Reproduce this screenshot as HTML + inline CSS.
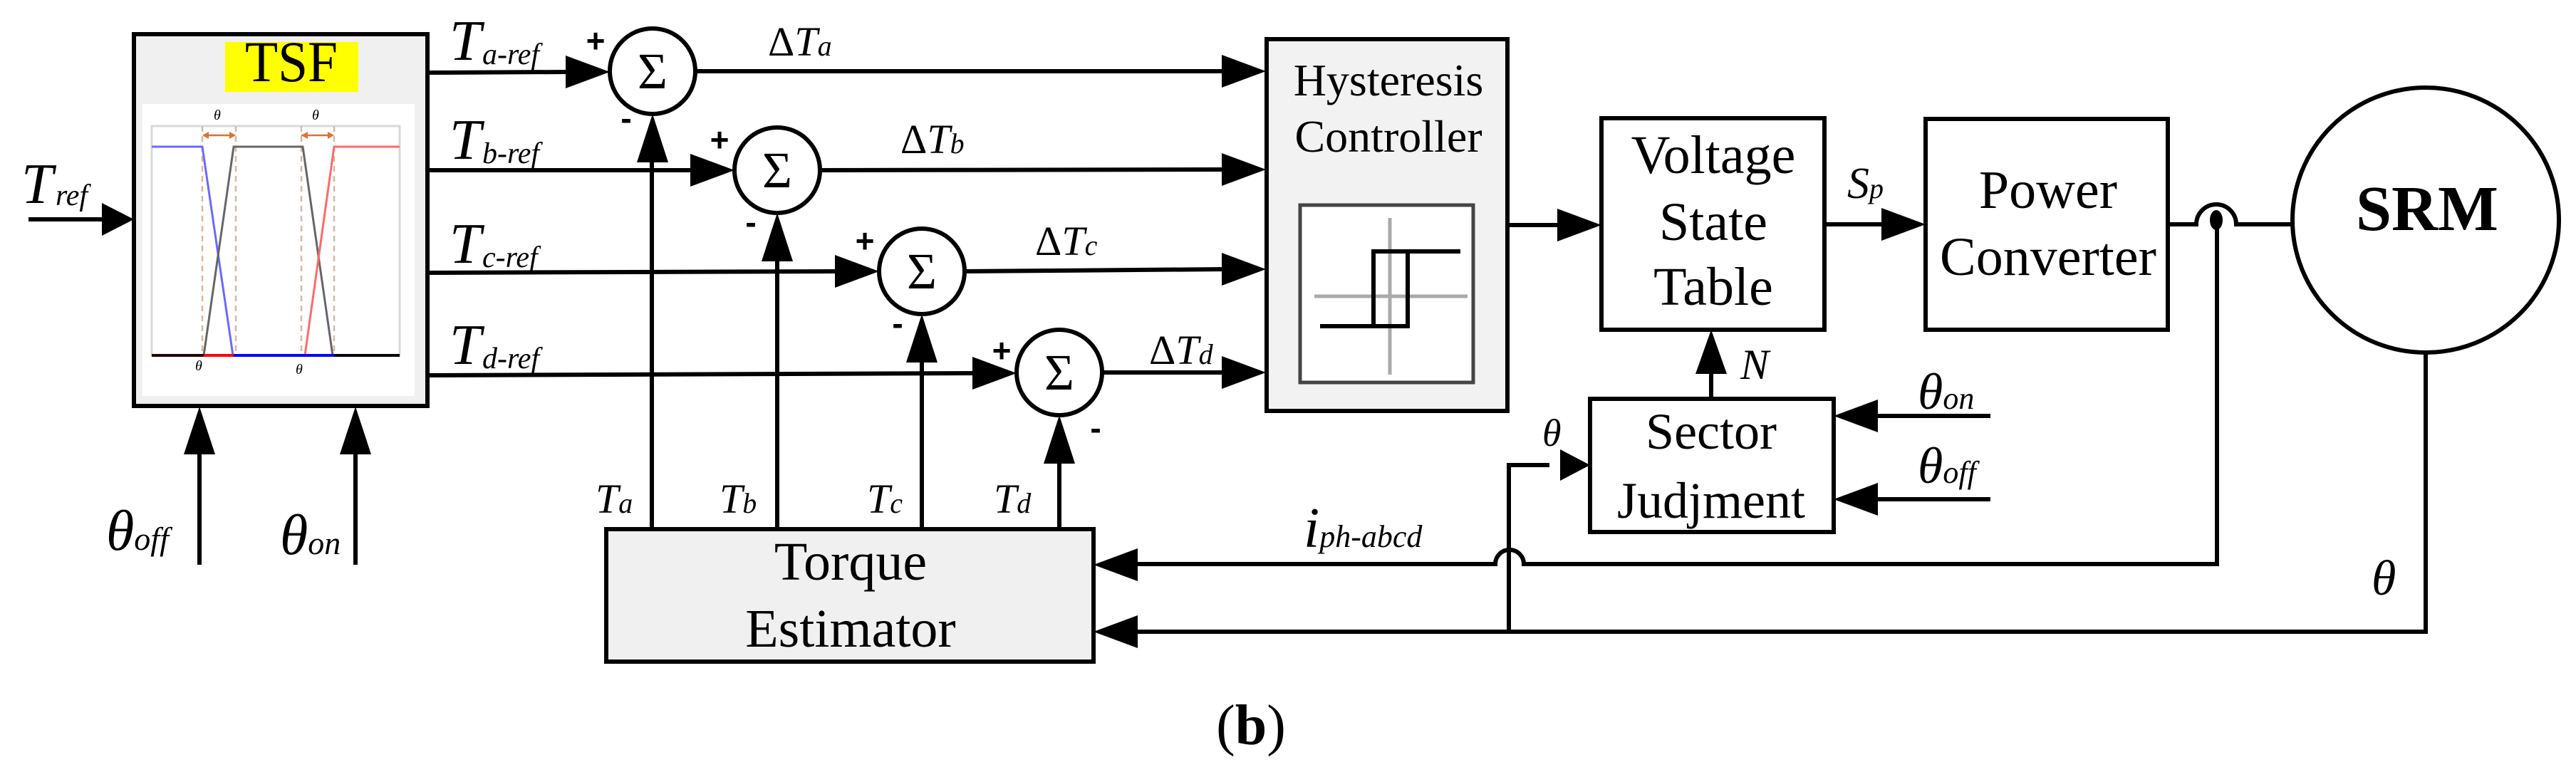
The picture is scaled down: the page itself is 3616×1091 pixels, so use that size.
<!DOCTYPE html>
<html><head><meta charset="utf-8"><style>
html,body{margin:0;padding:0;background:#fff;}
svg{display:block;font-family:"Liberation Serif","Times New Roman","DejaVu Serif",serif;}
svg text{font-family:"Liberation Serif","Times New Roman","DejaVu Serif",serif;fill:#000;}
svg text.sans{font-family:"Liberation Sans","DejaVu Sans",sans-serif;}
</style></head><body>
<svg width="3616" height="1091" viewBox="0 0 3616 1091" xmlns="http://www.w3.org/2000/svg" font-family="Liberation Serif, serif">
<g stroke="#000" stroke-width="6" fill="none">
<rect x="188" y="48" width="412" height="522" fill="#f0f0f0"/>
</g>
<rect x="200" y="146" width="382" height="410" fill="#fff"/>
<rect x="316" y="59" width="187" height="70" fill="#ffff00"/>
<text x="409" y="114" font-size="82" text-anchor="middle" textLength="130" lengthAdjust="spacingAndGlyphs">TSF</text>
<g fill="none">
<rect x="213" y="177" width="348" height="322" stroke="#d8d8d8" stroke-width="3"/>
<g stroke="#d9b8a0" stroke-width="2.5" stroke-dasharray="8,6">
<line x1="284" y1="177" x2="284" y2="499"/><line x1="331" y1="177" x2="331" y2="499"/>
<line x1="423" y1="177" x2="423" y2="499"/><line x1="469" y1="177" x2="469" y2="499"/>
</g>
<path d="M213 206 L284 206 L327 499" stroke="#6a6aff" stroke-width="3"/>
<path d="M286 499 L328 206 L425 206 L467 499" stroke="#666" stroke-width="3"/>
<path d="M428 499 L469 206 L561 206" stroke="#ff6a6a" stroke-width="3"/>
<path d="M213 499 L286 499" stroke="#200" stroke-width="4"/>
<path d="M286 499 L328 499" stroke="#f00" stroke-width="4"/>
<path d="M328 499 L469 499" stroke="#00f" stroke-width="4"/>
<path d="M469 499 L561 499" stroke="#001" stroke-width="4"/>
<path d="M288 190 L327 190 M423 190 L466 190" stroke="#e07030" stroke-width="2.5"/>
</g>
<g fill="#e07030"><polygon points="284,190 293,185 293,195"/><polygon points="331,190 322,185 322,195"/><polygon points="423,190 432,185 432,195"/><polygon points="469,190 460,185 460,195"/></g>
<g fill="#999" font-style="italic" font-size="20"><text x="300" y="168">θ</text><text x="438" y="168">θ</text><text x="274" y="520">θ</text><text x="415" y="525">θ</text></g>

<g stroke="#000" stroke-width="6" fill="none">
<line x1="40" y1="308" x2="150" y2="308"/>
<line x1="600" y1="102" x2="800" y2="101"/>
<line x1="600" y1="239" x2="975" y2="239"/>
<line x1="600" y1="383" x2="1175" y2="381"/>
<line x1="600" y1="527" x2="1370" y2="524"/>
<line x1="976" y1="100" x2="1720" y2="100"/>
<line x1="1151" y1="239" x2="1720" y2="238"/>
<line x1="1354" y1="381" x2="1720" y2="378"/>
<line x1="1547" y1="523" x2="1720" y2="523"/>
<line x1="915" y1="743" x2="915" y2="225"/>
<line x1="1091" y1="743" x2="1091" y2="365"/>
<line x1="1294" y1="743" x2="1294" y2="505"/>
<line x1="1487" y1="743" x2="1487" y2="645"/>
<line x1="280" y1="793" x2="280" y2="630"/>
<line x1="499" y1="793" x2="499" y2="630"/>
<circle cx="916" cy="100" r="60" fill="#fff"/>
<circle cx="1091" cy="239" r="60" fill="#fff"/>
<circle cx="1294" cy="381" r="60" fill="#fff"/>
<circle cx="1487" cy="523" r="60" fill="#fff"/>
<rect x="1778" y="55" width="338" height="522" fill="#f2f2f2"/>
<line x1="2116" y1="316" x2="2190" y2="316"/>
<rect x="2248" y="166" width="313" height="297"/>
<line x1="2561" y1="315" x2="2645" y2="315"/>
<rect x="2703" y="167" width="340" height="296"/>
<path d="M3043 315 L3083 315 A28 28 0 0 1 3139 315 L3218 315"/>
<ellipse cx="3405" cy="309" rx="187" ry="186"/>
<path d="M3112 315 L3112 792 L2139 792 A20 20 0 0 0 2099 792 L1595 792"/>
<path d="M3405 495 L3405 887 L1595 887"/>
<path d="M2118 887 L2118 653 L2175 653"/>
<rect x="2232" y="560" width="342" height="187"/>
<line x1="2402" y1="560" x2="2402" y2="520"/>
<line x1="2794" y1="584" x2="2630" y2="584"/>
<line x1="2794" y1="701" x2="2630" y2="701"/>
<rect x="851" y="743" width="684" height="186" fill="#f0f0f0"/>
</g>
<ellipse cx="3111" cy="309" rx="9" ry="14" fill="#000"/>
<rect x="1825" y="288" width="243" height="249" fill="#fff" stroke="#444" stroke-width="5"/>
<g stroke="#aaa" stroke-width="5"><line x1="1845" y1="416" x2="2060" y2="416"/><line x1="1951" y1="306" x2="1951" y2="526"/></g>
<path d="M1853 458 L1976 458 L1976 353 L1928 353 L1928 458 M1928 353 L2050 353" stroke="#000" stroke-width="6" fill="none"/>

<g fill="#000">
<polygon points="188,308 143,285 143,331"/>
<polygon points="856,101 794,78 794,124"/>
<polygon points="1031,239 969,216 969,262"/>
<polygon points="1234,381 1172,358 1172,404"/>
<polygon points="1427,524 1365,501 1365,547"/>
<polygon points="1777,100 1715,77 1715,123"/>
<polygon points="1777,238 1715,215 1715,261"/>
<polygon points="1777,378 1715,355 1715,401"/>
<polygon points="1777,523 1715,500 1715,546"/>
<polygon points="916,160 894,228 938,228"/>
<polygon points="1091,299 1069,367 1113,367"/>
<polygon points="1294,441 1272,509 1316,509"/>
<polygon points="1487,583 1465,651 1509,651"/>
<polygon points="280,571 258,638 302,638"/>
<polygon points="499,571 477,638 521,638"/>
<polygon points="2248,316 2186,293 2186,339"/>
<polygon points="2703,315 2641,292 2641,338"/>
<polygon points="2232,653 2190,631 2190,675"/>
<polygon points="2402,463 2380,525 2424,525"/>
<polygon points="2574,584 2636,561 2636,607"/>
<polygon points="2574,701 2636,678 2636,724"/>
<polygon points="1535,793 1597,770 1597,816"/>
<polygon points="1535,887 1597,864 1597,910"/>
</g>

<g font-size="72" text-anchor="middle">
<text x="916" y="124">Σ</text><text x="1091" y="263">Σ</text><text x="1294" y="405">Σ</text><text x="1487" y="547">Σ</text>
</g>
<g font-weight="bold" font-size="46" text-anchor="middle">
<text class="sans" x="836" y="73">+</text><text class="sans" x="1010" y="212">+</text><text class="sans" x="1214" y="354">+</text><text class="sans" x="1406" y="508">+</text>
<text class="sans" x="879" y="182">-</text><text class="sans" x="1054" y="328">-</text><text class="sans" x="1260" y="470">-</text><text class="sans" x="1538" y="617">-</text>
</g>

<g font-style="italic">
<text x="30" y="285" font-size="80">T</text><text x="78" y="288" font-size="42">ref</text>
<text x="631" y="84" font-size="80">T</text><text x="677" y="90" font-size="42">a-ref</text>
<text x="631" y="223" font-size="80">T</text><text x="677" y="229" font-size="42">b-ref</text>
<text x="631" y="369" font-size="80">T</text><text x="677" y="375" font-size="42">c-ref</text>
<text x="631" y="511" font-size="80">T</text><text x="677" y="517" font-size="42">d-ref</text>
<text x="1078" y="78" font-size="58"><tspan font-style="normal">Δ</tspan>T<tspan font-size="40">a</tspan></text>
<text x="1264" y="215" font-size="58"><tspan font-style="normal">Δ</tspan>T<tspan font-size="40">b</tspan></text>
<text x="1453" y="358" font-size="58"><tspan font-style="normal">Δ</tspan>T<tspan font-size="40">c</tspan></text>
<text x="1613" y="511" font-size="58"><tspan font-style="normal">Δ</tspan>T<tspan font-size="40">d</tspan></text>
<text x="836" y="720" font-size="58">T<tspan font-size="40">a</tspan></text>
<text x="1010" y="720" font-size="58">T<tspan font-size="40">b</tspan></text>
<text x="1217" y="720" font-size="58">T<tspan font-size="40">c</tspan></text>
<text x="1395" y="720" font-size="58">T<tspan font-size="40">d</tspan></text>
<text x="149" y="772" font-size="80">θ<tspan font-size="46">off</tspan></text>
<text x="393" y="778" font-size="80">θ<tspan font-size="46">on</tspan></text>
<text x="2593" y="278" font-size="62">S<tspan font-size="40">p</tspan></text>
<text x="2443" y="532" font-size="60">N</text>
<text x="2692" y="574" font-size="72">θ<tspan font-size="44">on</tspan></text>
<text x="2692" y="678" font-size="72">θ<tspan font-size="44">off</tspan></text>
<text x="2165" y="626" font-size="54">θ</text>
<text x="3329" y="835" font-size="70">θ</text>
<text x="1830" y="768" font-size="80">i<tspan font-size="44">ph-abcd</tspan></text>
</g>

<g font-size="76" text-anchor="middle">
<text x="1194" y="814">Torque</text><text x="1194" y="908">Estimator</text>
<text x="2405" y="243">Voltage</text><text x="2405" y="337">State</text><text x="2405" y="428">Table</text>
<text x="2875" y="292">Power</text><text x="2875" y="386">Converter</text>
<text x="2402" y="630" font-size="72">Sector</text><text x="2402" y="727" font-size="72">Judjment</text>
<text x="1949" y="134" font-size="64">Hysteresis</text><text x="1949" y="213" font-size="64">Controller</text>
</g>
<text x="3407" y="323" font-size="90" font-weight="bold" text-anchor="middle">SRM</text>
<text x="1756" y="1045" font-size="80" text-anchor="middle">(<tspan font-weight="bold">b</tspan>)</text>
</svg>
</body></html>
